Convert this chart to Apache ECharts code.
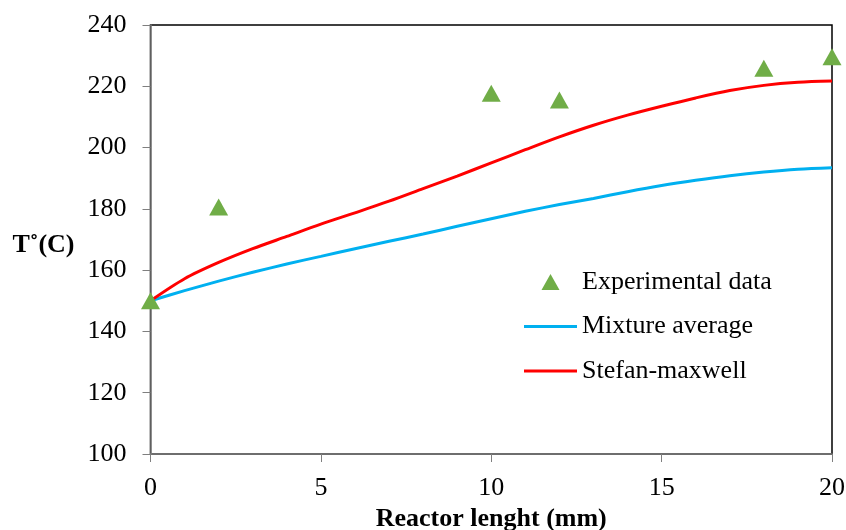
<!DOCTYPE html>
<html>
<head>
<meta charset="utf-8">
<script src="https://cdn.jsdelivr.net/npm/echarts@6/dist/echarts.min.js"></script>
<style>html,body{margin:0;padding:0;background:#fff}#c{width:846px;height:530px}</style>
</head>
<body>
<div id="c"></div>
<script>
const expX = [0, 2, 10, 12, 18, 20];
const expY = [150, 180.6, 217.7, 215.5, 225.9, 229.6];
const modelX = [0,1,2,3,4,5,6,7,8,9,10,11,12,13,14,15,16,17,18,19,20];
const mixtureAvg = [150,153.3,156.4,159.3,162,164.5,167,169.4,171.8,174.3,176.8,179.2,181.4,183.4,185.6,187.6,189.3,190.8,192,192.9,193.4];
const stefanMaxwell = [150,157.2,162.5,167,171,175,178.7,182.5,186.6,190.7,195,199.3,203.5,207.3,210.6,213.5,216.2,218.6,220.3,221.3,221.7];
const yTicks = [100, 240, 20];
const xTicks = [0, 20, 5];

const font = '"Liberation Serif", "Times New Roman", serif';
const pair = (xs, ys) => xs.map((x, i) => [x, ys[i]]);

const chart = echarts.init(document.getElementById('c'), null, {renderer: 'canvas'});
chart.setOption({
  animation: false,
  backgroundColor: '#fff',
  grid: {left: 150.5, right: 14, top: 25, bottom: 76, outerBoundsMode: 'none', containLabel: false,
         show: true, borderColor: '#000', borderWidth: 1.5, backgroundColor: 'transparent'},
  xAxis: {
    type: 'value', min: xTicks[0], max: xTicks[1], interval: xTicks[2],
    name: 'Reactor lenght (mm)', nameLocation: 'middle', nameGap: 51,
    nameTextStyle: {fontFamily: font, fontSize: 26, fontWeight: 'bold', color: '#000'},
    axisLine: {lineStyle: {color: '#7f7f7f', width: 1.5}},
    axisTick: {show: true, length: 8, lineStyle: {color: '#7f7f7f', width: 1}},
    axisLabel: {margin: 21, fontFamily: font, fontSize: 26, color: '#000'},
    splitLine: {show: false}
  },
  yAxis: {
    type: 'value', min: yTicks[0], max: yTicks[1], interval: yTicks[2],
    name: 'T\u02DA(C)', nameLocation: 'middle', nameRotate: 0, nameGap: 76,
    nameTextStyle: {fontFamily: font, fontSize: 26, fontWeight: 'bold', color: '#000', verticalAlign: 'top', lineHeight: 12},
    axisLine: {show: true, lineStyle: {color: '#7f7f7f', width: 1.5}},
    axisTick: {show: true, length: 8, lineStyle: {color: '#7f7f7f', width: 1}},
    axisLabel: {margin: 24, fontFamily: font, fontSize: 26, color: '#000'},
    splitLine: {show: false}
  },
  legend: {
    orient: 'vertical', left: 519, top: 264,
    itemWidth: 53, itemHeight: 16, itemGap: 18.5,
    symbolKeepAspect: true,
    textStyle: {fontFamily: font, fontSize: 26, color: '#000'},
    data: [
      {name: 'Experimental data', icon: 'path://M9,0 L18,16 L0,16 Z'},
      {name: 'Mixture average', icon: 'path://M0,0 L53,0 L53,3 L0,3 Z'},
      {name: 'Stefan-maxwell', icon: 'path://M0,0 L53,0 L53,3 L0,3 Z'}
    ]
  },
  series: [
    {
      name: 'Mixture average', type: 'line', data: pair(modelX, mixtureAvg),
      smooth: 0.3, symbol: 'none', showSymbol: false,
      lineStyle: {color: '#00B0F0', width: 3}, itemStyle: {color: '#00B0F0'}, z: 2
    },
    {
      name: 'Stefan-maxwell', type: 'line', data: pair(modelX, stefanMaxwell),
      smooth: 0.3, symbol: 'none', showSymbol: false,
      lineStyle: {color: '#FF0000', width: 3}, itemStyle: {color: '#FF0000'}, z: 3
    },
    {
      name: 'Experimental data', type: 'scatter', data: pair(expX, expY),
      symbol: 'triangle', symbolSize: [19, 17], itemStyle: {color: '#70AD47', opacity: 1}, z: 4
    }
  ]
});
</script>
</body>
</html>
